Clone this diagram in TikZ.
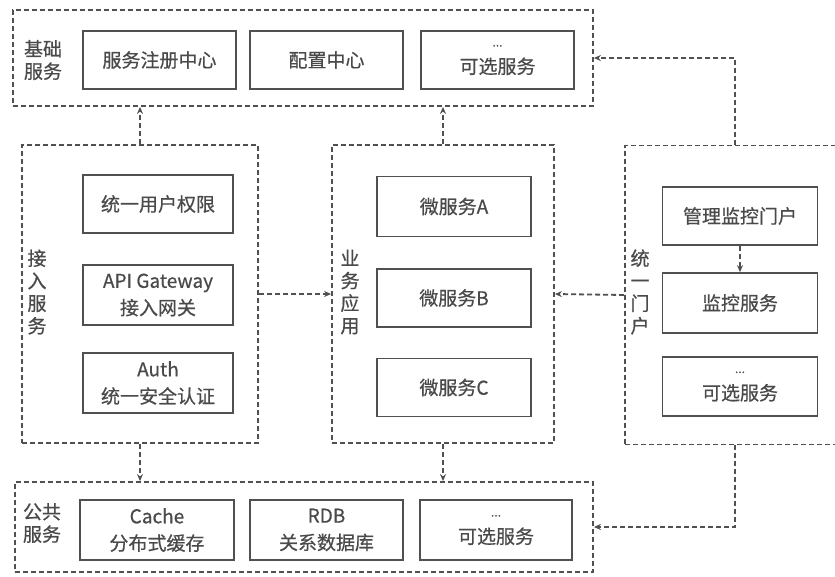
\documentclass[tikz,border=0pt]{standalone}
\usepackage{fontspec}
\setmainfont[FakeBold=0.6]{Noto Sans CJK SC}
\usetikzlibrary{arrows.meta,positioning}
\definecolor{txtgray}{HTML}{4A4A4A}
\definecolor{linegray}{HTML}{505050}

\begin{document}
\begin{tikzpicture}[x=1pt,y=-1pt,
		svc/.style={draw=linegray, line width=1.7pt, text=txtgray, minimum width=153pt, minimum height=58pt, align=center, font=\fontsize{19}{27}\selectfont},
		grp/.style={draw=linegray, dashed, dash pattern=on 5pt off 3pt, line width=1.8pt},
		lbl/.style={text=txtgray, align=center, font=\fontsize{19}{22.5}\selectfont},
		arr/.style={draw=linegray, dashed, dash pattern=on 5pt off 3pt, line width=1.8pt, -{Stealth[length=7pt,width=6pt]}}]
		
		\useasboundingbox (0,0) rectangle (835,576);
		
		%base
		\node[grp, minimum width=580pt, minimum height=96pt] (base) at (303,58) {};
		\node[lbl] (baselbl) at (43,60) {基础\\服务};
		%reg
		\node[svc] (reg) at (159.5,60) {服务注册中心};
		%cfg
		\node[svc] (cfg) at (326.5,60) {配置中心};
		%opt1
		\node[svc] (opt1) at (497.5,60) {{\fontsize{12}{14}\selectfont ...}\\可选服务};
		
		%access
		\node[grp, minimum width=236pt, minimum height=298pt] (acc) at (140,294) {};
		\node[lbl] (acclbl) at (37,292) {接\\入\\服\\务};
		%user
		\node[svc, minimum width=150pt] (user) at (158,204) {统一用户权限};
		%gw
		\node[svc, minimum width=150pt, minimum height=60pt] (gw) at (158,295) {API Gateway\\接入网关};
		%auth
		\node[svc, minimum width=150pt, minimum height=60pt] (auth) at (158,383) {Auth\\统一安全认证};
		
		%app
		\node[grp, minimum width=222pt, minimum height=298pt] (app) at (443,294) {};
		\node[lbl] (applbl) at (350,292) {业\\务\\应\\用};
		%msA
		\node[svc, minimum width=154pt, minimum height=60pt] (msA) at (454,206.5) {微服务A};
		%msB
		\node[svc, minimum width=154pt] (msB) at (454,298) {微服务B};
		%msC
		\node[svc, minimum width=154pt] (msC) at (454,387.5) {微服务C};
		
		%portal
		\node[grp, minimum width=220pt, minimum height=299pt] (portal) at (735,295) {};
		\node[lbl] (portallbl) at (640,292) {统\\一\\门\\户};
		%mgmt
		\node[svc, minimum width=155pt] (mgmt) at (740,216) {管理监控门户};
		%mon
		\node[svc, minimum width=155pt, minimum height=60pt] (mon) at (740,303) {监控服务};
		%opt2
		\node[svc, minimum width=155pt, minimum height=59pt] (opt2) at (740,386.5) {{\fontsize{12}{14}\selectfont ...}\\可选服务};
		
		%pub
		\node[grp, minimum width=578pt, minimum height=90pt] (pub) at (304,527) {};
		\node[lbl] (publbl) at (42,523) {公共\\服务};
		%cache
		\node[svc, minimum width=154pt, minimum height=60pt] (cache) at (157,530) {Cache\\分布式缓存};
		%rdb
		\node[svc, minimum height=60pt] (rdb) at (326.5,530) {RDB\\关系数据库};
		%opt3
		\node[svc, minimum width=152pt, minimum height=60pt] (opt3) at (496,530) {{\fontsize{12}{14}\selectfont ...}\\可选服务};
		
		
		% up
		\draw[arr] (acc.north) -- (acc.north |- base.south);
		\draw[arr] (app.north) -- (app.north |- base.south);
		\draw[arr] (portal.north) |- (base.east);
		
		% side
		\draw[arr] (acc.east) -- (app.west);
		\draw[arr] (portal.west) -- (app.east);
		\draw[arr] (mgmt.south) -- (mon.north);
		
		% down
		\draw[arr] (acc.south) -- (acc.south |- pub.north);
		\draw[arr] (app.south) -- (app.south |- pub.north);
		\draw[arr] (portal.south) |- (pub.east);
		
		\end{tikzpicture}
\end{document}
